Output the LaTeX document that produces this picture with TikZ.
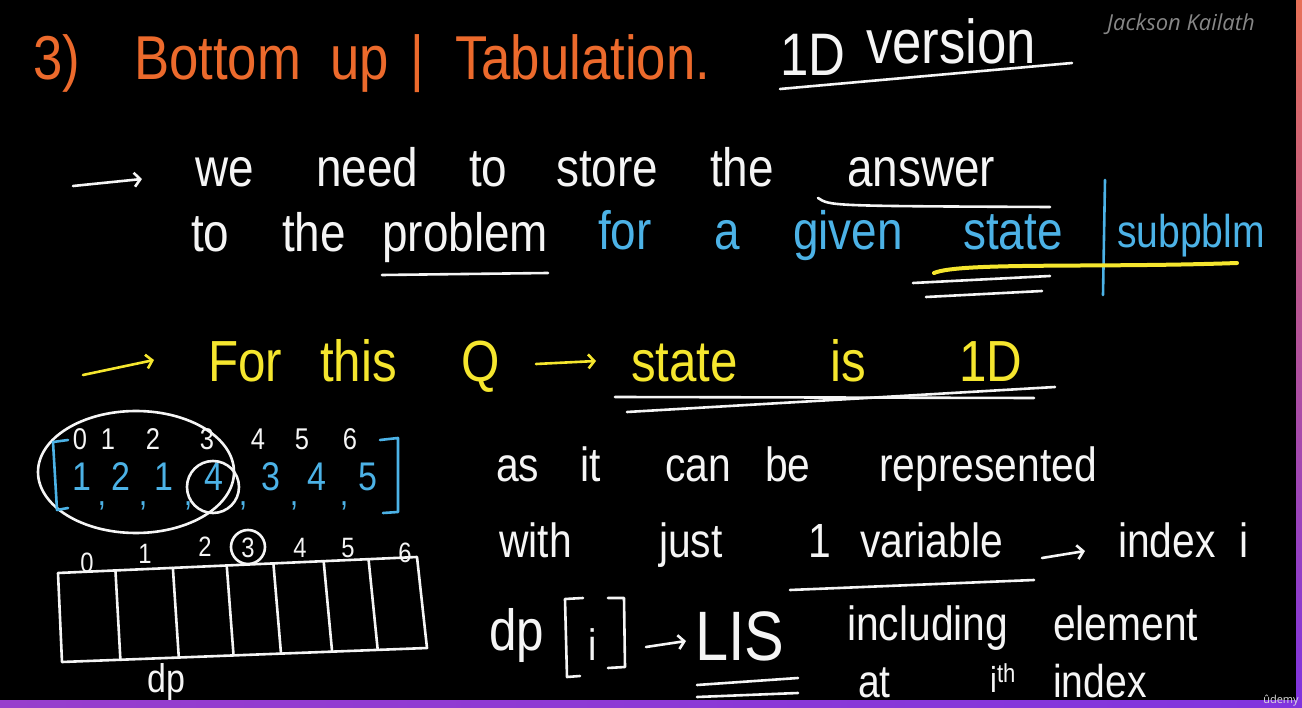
\documentclass[tikz,border=0pt]{standalone}
\usepackage{fontspec}
\setmainfont{Liberation Sans}
\newfontfamily\hand[FakeStretch=0.85]{Liberation Sans}
\newfontfamily\sign{Open Sans}
\usetikzlibrary{arrows.meta,calc}
\definecolor{chalkorange}{RGB}{236,106,44}
\definecolor{chalkblue}{RGB}{76,178,230}
\definecolor{chalkyellow}{RGB}{245,230,46}
\definecolor{chalkwhite}{RGB}{245,245,245}
\definecolor{signgray}{RGB}{135,135,135}
\definecolor{barorange}{RGB}{232,112,88}
\definecolor{barpurple}{RGB}{128,52,222}
\definecolor{barviolet}{RGB}{152,62,204}
\newcommand{\fsz}[1]{\fontsize{#1}{#1}\selectfont}
\begin{document}
\begin{tikzpicture}[x=1pt, y=-1pt, color=chalkwhite,
  hw/.style={anchor=base west, inner sep=0pt, font=\hand\fsz{#1}},
  hw/.default=54,
  hwc/.style={hw=#1, anchor=base},
  hwc/.default=30,
  ink/.style={draw=chalkwhite, line width=2.6pt, line cap=round, line join=round},
  pen/.style={ink, -{Straight Barb[length=6pt, width=14pt]}}]
  % board
  \fill[black] (0,0) rectangle (1302,708);
  \useasboundingbox (0,0) rectangle (1302,708);
  \node[anchor=base west, inner sep=0pt, font=\sign\itshape\fsz{22}, text=signgray] (author) at (1107,31) {Jackson Kailath};
  % title
  \node[hw=62, chalkorange] (num) at (33,80) {3)};
  \node[hw=62, chalkorange] (bottom) at (134,80) {Bottom};
  \node[hw=62, chalkorange] (up) at (330,80) {up};
  \node[hw=62, chalkorange] (sep) at (410,80) {|};
  \node[hw=62, chalkorange] (tab) at (455,80) {Tabulation.};
  \node[hw=60] (oned) at (780,76) {1D};
  \node[hw=62] (version) at (866,64) {version};
  \draw[ink] (780,89) -- (1072,63);
  % line 2
  \draw[pen] (73,186) -- (142,179);
  \node[hw] (we) at (195,187) {we};
  \node[hw] (need) at (316,187) {need};
  \node[hw] (to) at (469,187) {to};
  \node[hw] (store) at (556,187) {store};
  \node[hw] (the) at (710,187) {the};
  \node[hw] (answer) at (847,187) {answer};
  \draw[ink] (818,198) .. controls (830,206) .. (1050,207);
  % line 3
  \node[hw] (to2) at (191,252) {to};
  \node[hw] (the2) at (282,252) {the};
  \node[hw] (problem) at (382,252) {problem};
  \draw[ink] (382,275) -- (548,273);
  \node[hw, chalkblue] (for) at (598,250) {for};
  \node[hw, chalkblue] (a) at (714,250) {a};
  \node[hw, chalkblue] (given) at (793,250) {given};
  \node[hw, chalkblue] (state) at (963,250) {state};
  \draw[ink, draw=chalkblue] (1105,180) -- (1103,295);
  \node[hw=46, chalkblue] (subpblm) at (1117,248) {subpblm};
  \draw[ink, draw=chalkyellow, line width=4pt] (934,273) .. controls (960,262) and (1100,268) .. (1237,263);
  \draw[ink] (913,283) -- (1050,276);
  \draw[ink] (926,297) -- (1042,291);
  % line 4
  \draw[pen, draw=chalkyellow] (83,375) -- (154,360);
  \node[hw=58, chalkyellow] (For) at (208,382) {For};
  \node[hw=58, chalkyellow] (this) at (320,382) {this};
  \node[hw=58, chalkyellow] (Q) at (461,382) {Q};
  \draw[pen, draw=chalkyellow] (536,364) -- (596,361);
  \node[hw=58, chalkyellow] (state2) at (631,382) {state};
  \node[hw=58, chalkyellow] (is) at (830,382) {is};
  \node[hw=58, chalkyellow] (oned2) at (959,382) {1D};
  \draw[ink] (615,397) -- (1034,398);
  \draw[ink] (627,412) -- (1055,387);
  % array and its indices
  \draw[ink] (136,472) ellipse [x radius=98, y radius=61];
  \foreach \x/\d [count=\i] in {80/0,108/1,153/2,207/3,258/4,302/5,350/6}
    \node[hwc] (top-\i) at (\x,450) {\d};
  \draw[ink, draw=chalkblue] (68,440) -- (53,442) -- (57,510) -- (68,508);
  \draw[ink, draw=chalkblue] (380,440) -- (398,438) -- (398,512) -- (383,513);
  \foreach \x/\d [count=\i] in {82/1,121/2,164/1,214/4,271/3,317/4,368/5}
    \node[hwc=40, chalkblue] (val-\i) at (\x,490) {\d};
  \foreach \x [count=\i] in {102,143,188,243,294,344}
    \node[hwc=36, chalkblue] (comma-\i) at (\x,506) {,};
  \draw[ink] (213,487) circle [radius=26];
  % dp table
  \coordinate (tl) at (58,573);
  \coordinate (tr) at (417,557);
  \coordinate (br) at (427,648);
  \coordinate (bl) at (62,662);
  \draw[ink] (tl) -- (tr) -- (br) -- (bl) -- cycle;
  \foreach \f in {0.16,0.32,0.47,0.6,0.74,0.865}
    \draw[ink] ($(tl)!\f!(tr)$) -- ($(bl)!\f!(br)$);
  \foreach \x/\y/\d [count=\i] in {87/572/0,145/563/1,205/556/2,248/557/3,300/558/4,348/557/5,405/562/6}
    \node[hwc=28] (idx-\i) at (\x,\y) {\d};
  \draw[ink] (248,547) circle [radius=17];
  \node[hw=40] (dp) at (147,692) {dp};
  % explanation
  \node[hw=48] (as) at (496,482) {as};
  \node[hw=48] (it) at (580,482) {it};
  \node[hw=48] (can) at (665,482) {can};
  \node[hw=48] (be) at (765,482) {be};
  \node[hw=48] (repr) at (879,482) {represented};
  \node[hw=48] (with) at (499,557) {with};
  \node[hw=48] (just) at (659,557) {just};
  \node[hw=48] (one) at (808,557) {1};
  \node[hw=48] (variable) at (860,557) {variable};
  \draw[ink] (790,590) -- (1034,580);
  \draw[pen] (1042,558) -- (1085,551);
  \node[hw=48] (index) at (1118,557) {index};
  \node[hw=48] (i) at (1239,557) {i};
  \node[hw=58] (dp2) at (489,650) {dp};
  \draw[ink] (583,598) -- (565,599) -- (567,677) -- (580,676);
  \node[hwc=44] (i2) at (593,660) {i};
  \draw[ink] (608,598) -- (624,598) -- (625,667) -- (608,668);
  \draw[pen] (646,647) -- (686,641);
  \node[hw=70] (lis) at (695,660) {LIS};
  \draw[ink] (697,685) -- (798,678);
  \draw[ink] (697,697) -- (798,693);
  \node[hw=48] (including) at (847,640) {including};
  \node[hw=48] (element) at (1053,640) {element};
  \node[hw=46] (at) at (858,697) {at};
  \node[hw=36] (ith) at (990,692) {i\raisebox{0.5ex}{\fsz{26}th}};
  \node[hw=46] (index2) at (1053,697) {index};
  % frame
  \shade[top color=barorange, bottom color=barpurple] (1296,0) rectangle (1302,700);
  \shade[left color=barviolet, right color=barpurple] (0,700) rectangle (1302,708);
  \node[anchor=base, inner sep=0pt, font=\sign\fsz{11}, text=white!75!gray] (logo) at (1281,703) {ûdemy};
\end{tikzpicture}
\end{document}
